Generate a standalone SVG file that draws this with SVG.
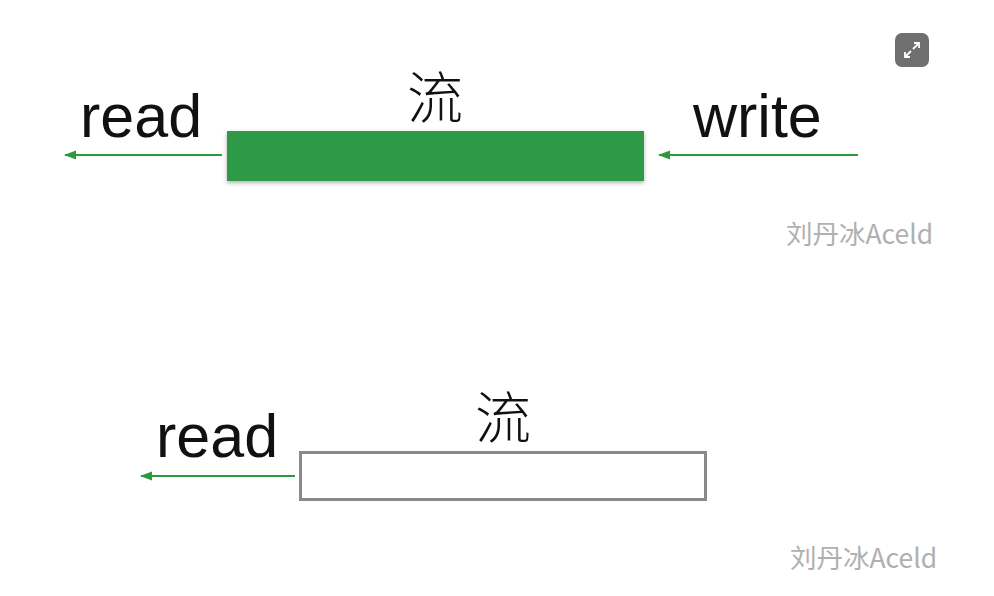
<svg xmlns="http://www.w3.org/2000/svg" width="994" height="596" viewBox="0 0 994 596">
<defs>
<marker id="ah" viewBox="0 0 12 10" refX="11" refY="5" markerWidth="12" markerHeight="10" markerUnits="userSpaceOnUse" orient="auto">
<path d="M0,0.5 L12,5 L0,9.5 Z" fill="#2a9a3a"/>
</marker>
<filter id="sh" x="-5%" y="-20%" width="110%" height="150%">
<feDropShadow dx="0" dy="2" stdDeviation="2" flood-color="#000" flood-opacity="0.3"/>
</filter>
</defs>
<style>
.lbl{font-family:"Liberation Sans","Noto Sans CJK SC",sans-serif;fill:#111;}
.big{font-size:61px;}
.cjk{font-family:"Noto Sans CJK SC",sans-serif;font-size:56px;font-weight:300;fill:#111;text-anchor:middle;}
.wm{font-family:"Noto Sans CJK SC",sans-serif;font-size:26.5px;fill:#b0b0b0;}
.conn{stroke:#2a9a3a;stroke-width:2;fill:none;}
</style>
<rect width="994" height="596" fill="#fff"/>
<g id="expand-icon">
<rect x="895" y="33" width="34" height="34" rx="7" fill="#6f6f6f"/>
<g stroke="#fff" stroke-width="1.8" fill="none">
<path d="M905,52 L905,57 L910,57"/>
<path d="M914,43 L919,43 L919,48"/>
<path d="M905,57 L911,51"/>
<path d="M919,43 L913,49"/>
</g>
</g>
<g id="stream1">
<rect x="227" y="131" width="417" height="50" fill="#2e9a47" filter="url(#sh)"/>
<text class="cjk" x="435" y="118">流</text>
</g>
<g id="read1"><text class="lbl big" x="80" y="137">read</text></g>
<g id="write1"><text class="lbl big" x="693" y="137">write</text></g>
<g id="stream2">
<rect x="300.5" y="452.5" width="405" height="47" fill="#fff" stroke="#8a8a8a" stroke-width="3"/>
<text class="cjk" x="503" y="438">流</text>
</g>
<g id="read2"><text class="lbl big" x="156" y="457">read</text></g>
<g id="connectors">
<line class="conn" x1="222" y1="155" x2="65" y2="155" marker-end="url(#ah)"/>
<line class="conn" x1="858" y1="155" x2="659" y2="155" marker-end="url(#ah)"/>
<line class="conn" x1="295" y1="476" x2="141" y2="476" marker-end="url(#ah)"/>
</g>
<text class="wm" x="786" y="244">刘丹冰Aceld</text>
<text class="wm" x="790" y="568">刘丹冰Aceld</text>
</svg>
